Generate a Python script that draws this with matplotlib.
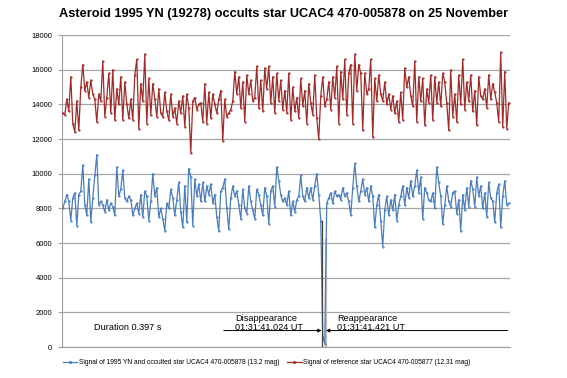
import numpy as np
import matplotlib
matplotlib.use('Agg')
import matplotlib.pyplot as plt

plt.rcParams['font.family'] = ['Liberation Sans', 'DejaVu Sans']

# sinal do asteroide + estrela ocultada
sinal_alvo = [
    8000, 8400, 8800, 8400, 7300, 8600, 8900, 7000, 8800, 9000, 10500, 8200, 7600, 9700, 7200, 8600,
    9900, 11100, 8200, 8400, 8200, 7800, 8500, 7900, 8300, 8100, 7600, 10400, 8700, 9100, 10200, 8600,
    8400, 8700, 8500, 7600, 8000, 8300, 7700, 8800, 7500, 9000, 8700, 7300, 8400, 10000, 8700, 9200,
    7500, 8000, 7400, 6700, 8300, 8000, 9100, 8600, 7600, 8500, 9500, 7800, 6900, 9300, 7200, 10300,
    9800, 7000, 9700, 8700, 9400, 8400, 9500, 8400, 9300, 8800, 9400, 8300, 8800, 7500, 6700, 9000,
    9200, 9700, 8000, 6800, 8600, 9300, 8700, 9000, 8200, 7400, 9100, 8000, 7700, 9300, 8400, 7900,
    7400, 9100, 8800, 8200, 7600, 9200, 8700, 7100, 9000, 9300, 8100, 10400, 9600, 8800, 8400, 8600,
    8200, 9000, 7600, 8400, 7800, 8500, 8700, 9900, 8700, 8400, 9200, 8600, 9200, 8500, 9300, 10000,
    8800, 7300, 600, 200, 8300, 8600, 8900, 8300, 9000, 8700, 8800, 8500, 9200, 8700, 8900, 8400,
    7600, 9200, 10600, 9300, 8400, 9000, 9700, 8800, 9200, 8400, 9300, 8700, 6900, 8200, 8800, 7300,
    5800, 7900, 8700, 7600, 8500, 7900, 8800, 7300, 8200, 8700, 9300, 8200, 9200, 8600, 9600, 8700,
    9300, 10200, 8900, 9800, 7400, 9200, 8900, 8500, 8400, 8900, 8000, 10400, 9500, 8700, 7100, 8200,
    9300, 8400, 8100, 8900, 9000, 7700, 8500, 6700, 8800, 7900, 9200, 8100, 9600, 9100, 8100, 9800,
    8700, 9300, 8000, 8900, 7500, 9500, 8600, 8400, 7200, 8900, 9400, 6900, 8700, 9600, 8200, 8300,
]

# sinal da estrela de referencia
sinal_ref = [
    13500, 13400, 14300, 13600, 15600, 12900, 12400, 14200, 12500, 15000, 16300, 14800, 15300, 14400, 15400, 14600,
    14300, 13000, 14600, 14200, 16500, 13300, 14400, 15800, 13500, 16000, 13100, 14900, 14000, 15600, 13100, 15300,
    14000, 13200, 14300, 13100, 15700, 16600, 12600, 15200, 14200, 16900, 12900, 15500, 13400, 15200, 14300, 13300,
    14900, 13500, 13300, 14700, 13600, 13100, 14600, 13300, 13800, 12900, 14200, 13500, 14500, 12700, 14600, 13800,
    11200, 14200, 14400, 13700, 14000, 14100, 13000, 15200, 12900, 14700, 13200, 14600, 14000, 13500, 14300, 14800,
    11900, 14300, 13300, 13500, 13700, 14200, 15900, 14600, 15600, 13800, 15300, 13000, 15700, 14600, 15400, 14200,
    14400, 16200, 13800, 15400, 13600, 16100, 14900, 16200, 14100, 15600, 13500, 15800, 14200, 15400, 13700, 14800,
    13500, 15800, 13100, 15000, 13600, 14400, 13200, 15500, 13900, 14800, 12900, 15200, 14100, 13400, 15700, 13200,
    12000, 14500, 15600, 13900, 14300, 15300, 13700, 15600, 14400, 16200, 12900, 15900, 14300, 16600, 13400, 15800,
    16300, 12900, 16900, 14800, 16300, 15800, 12500, 15800, 14600, 14900, 16600, 12100, 15500, 14200, 15700, 14600,
    14200, 15300, 14000, 14600, 13700, 14500, 13500, 14200, 13000, 14700, 13100, 16100, 15000, 15600, 14500, 13900,
    16500, 13000, 15600, 14200, 15500, 12800, 14900, 14100, 15700, 13100, 15600, 14100, 15300, 13900, 15800, 15300,
    14100, 12500, 16000, 13300, 14600, 13000, 15700, 14000, 16600, 13700, 15300, 14200, 15700, 13600, 14800, 12800,
    15600, 14500, 14300, 14900, 13800, 15700, 14300, 15200, 14700, 14100, 13000, 17000, 12700, 15900, 12600, 14100,
]

rotulo_alvo = 'Signal of 1995 YN and occulted star UCAC4 470-005878 (13.2 mag)'
rotulo_ref = 'Signal of reference star UCAC4 470-005877 (12.31 mag)'
titulo = 'Asteroid 1995 YN (19278) occults star UCAC4 470-005878 on 25 November'

# alturas das linhas de marcacao da ocultacao
altura_desap = 7300
altura_reap = 6200

x_alvo = np.arange(len(sinal_alvo))
x_ref = np.arange(len(sinal_ref))
n = len(sinal_alvo)

fig = plt.figure(figsize=(5.67, 3.78), dpi=100)
ax = fig.add_axes([0.109, 0.082, 0.790, 0.825])

ax.plot(x_alvo, sinal_alvo, color='#4a7ebb', lw=0.9, marker='.', markersize=1.2, label=rotulo_alvo, zorder=3)
ax.plot(x_ref, sinal_ref, color='#a02b28', lw=0.9, marker='.', markersize=1.2, label=rotulo_ref, zorder=3)

# posicao da ocultacao
baixos = np.where(np.array(sinal_alvo) < 2000)[0]
x_desap = baixos[0] - 0.6
x_reap = baixos[-1] + 0.6
ax.plot([x_desap, x_desap], [0, altura_desap], color='#404040', lw=0.9, zorder=4)
ax.plot([x_reap, x_reap], [0, altura_reap], color='#bfbfbf', lw=1.6, zorder=2)

y_seta = 950
ax.annotate('', xy=(x_desap, y_seta), xytext=(80.5, y_seta),
            arrowprops=dict(arrowstyle='-|>', color='black', lw=0.7, mutation_scale=5, shrinkA=0, shrinkB=0))
ax.annotate('', xy=(x_reap, y_seta), xytext=(n - 1.5, y_seta),
            arrowprops=dict(arrowstyle='-|>', color='black', lw=0.7, mutation_scale=5, shrinkA=0, shrinkB=0))

ax.text(86, 1400, 'Disappearance\n01:31:41.024 UT', fontsize=6.6, ha='left', va='center', linespacing=1.05)
ax.text(137, 1400, 'Reappearance\n01:31:41.421 UT', fontsize=6.6, ha='left', va='center', linespacing=1.05)
ax.text(15.5, 1150, 'Duration 0.397 s', fontsize=6.6, ha='left', va='center')

ax.set_ylim(0, 18000)
ax.set_xlim(-0.5, n - 0.5)
ax.set_yticks(range(0, 18001, 2000))
ax.set_xticks([])
ax.tick_params(axis='y', labelsize=5.5, length=3, color='#a0a0a0', width=0.8, pad=4)
ax.grid(axis='y', color='#a6a6a6', lw=0.9)
ax.set_axisbelow(True)
for lado in ['top', 'right']:
    ax.spines[lado].set_visible(False)
ax.spines['left'].set_color('#a0a0a0')
ax.spines['bottom'].set_color('#a0a0a0')

fig.suptitle(titulo, x=0.5, y=0.98, fontsize=9.2, fontweight='bold')
fig.legend(loc='center', bbox_to_anchor=(0.47, 0.04), ncol=2, frameon=False, fontsize=4.8,
           handlelength=2.2, columnspacing=1.2, handletextpad=0.2, markerscale=2)

fig.savefig('out.png', dpi=100)
